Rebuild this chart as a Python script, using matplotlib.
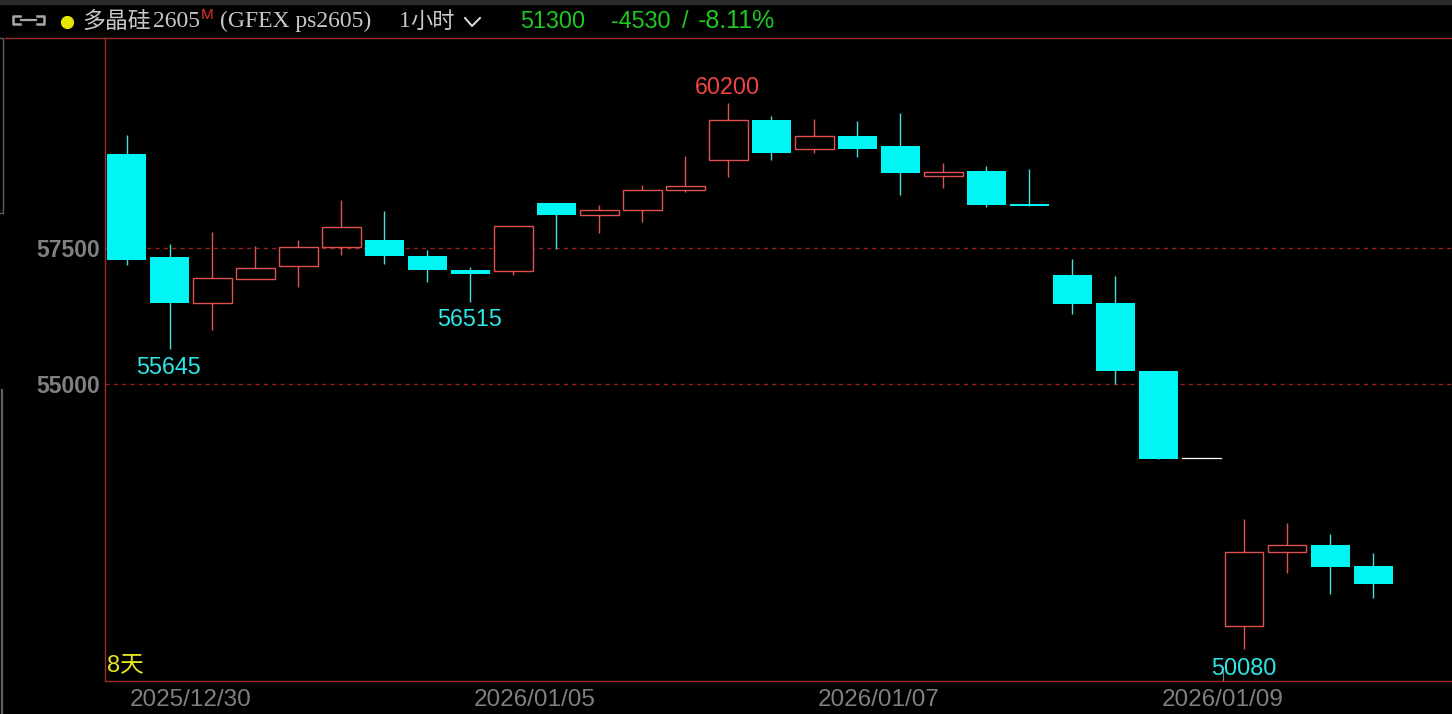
import matplotlib
matplotlib.use("Agg")
import matplotlib.pyplot as plt
from matplotlib.patches import Rectangle
from matplotlib.lines import Line2D

opens  = [59250, 57345, 56495, 56940, 57180, 57530, 57660, 57365, 57105, 57085,
          58345, 58125, 58215, 58585, 59140, 59880, 59345, 59585, 59400, 58845,
          58935, 58325, 57015, 56495, 55235, 53630, 50520, 51890, 52020, 51630]
closes = [57290, 56495, 56960, 57145, 57530, 57900, 57365, 57105, 57030, 57920,
          58125, 58215, 58585, 58660, 59880, 59270, 59585, 59345, 58900, 58920,
          58310, 58290, 56475, 55235, 53610, 53630, 51890, 52020, 51610, 51300]
highs  = [59605, 57585, 57810, 57550, 57660, 58400, 58195, 57475, 57160, 57920,
          58345, 58310, 58680, 59215, 60200, 59955, 59900, 59860, 60010, 59085,
          59030, 58975, 57310, 56995, 55235, 53630, 52500, 52425, 52220, 51870]
lows   = [57200, 55645, 55995, 56940, 56790, 57385, 57215, 56885, 56515, 57015,
          57495, 57790, 57995, 58550, 58825, 59140, 59270, 59195, 58495, 58625,
          58270, 58290, 56290, 55000, 53610, 53630, 50080, 51500, 51110, 51040]

ytick_vals = [55000, 57500]
date_pos = [1.5, 9.5, 17.5, 25.5]
date_labels = ["2025/12/30", "2026/01/05", "2026/01/07", "2026/01/09"]
# extreme labels: candle index, price, text offset in points
low_marks = [(1, 55645, -5.0), (8, 56515, -4.8), (26, 50080, -5.5)]
high_marks = [(14, 60200, 2.2)]

CYAN = "#00f5f5"
RED = "#e05252"
FRAME = "#a02c2c"
GREY = "#808080"
W, H = 1452, 714

plt.rcParams["font.family"] = ["Liberation Sans", "Noto Sans CJK SC", "DejaVu Sans"]

fig = plt.figure(figsize=(W / 100, H / 100), dpi=100, facecolor="black")
ax = fig.add_axes([104.5 / W, 1 - 681 / H, (W - 104.5) / W, (681 - 37.5) / H], facecolor="black")

for i in range(len(opens)):
    o, c, h, l = opens[i], closes[i], highs[i], lows[i]
    if c == o:
        ax.plot([i - 0.45, i + 0.45], [o, o], color="white", lw=0.9, zorder=3)
    elif c > o:
        ax.vlines(i, l, h, color=RED, lw=1.0, zorder=2)
        ax.add_patch(Rectangle((i - 0.445, o), 0.89, c - o, facecolor="black", edgecolor=RED, lw=1.0, zorder=3))
    else:
        ax.vlines(i, l, h, color="#40e0e0", lw=1.0, zorder=2)
        ax.add_patch(Rectangle((i - 0.45, c), 0.9, o - c, facecolor=CYAN, edgecolor="none", zorder=3))

ax.set_xlim(-0.512, 30.83)
ax.set_ylim(49497, 61403)

ax.set_yticks(ytick_vals)
ax.set_yticklabels([str(v) for v in ytick_vals], fontsize=16.6, fontweight="bold", color=GREY)
ax.set_xticks(date_pos)
ax.set_xticklabels(date_labels, fontsize=17.5, color=GREY)
ax.tick_params(axis="both", length=0)
ax.tick_params(axis="y", pad=3)
ax.tick_params(axis="x", pad=5.5)
ax.grid(axis="y", color="#9a2020", lw=1.0, ls=(0, (3, 3)), zorder=1)
ax.set_axisbelow(True)

for s in ["top", "right"]:
    ax.spines[s].set_visible(False)
for s in ["left", "bottom"]:
    ax.spines[s].set_color(FRAME)
    ax.spines[s].set_linewidth(1.0)

for i, v, off in low_marks:
    ax.annotate(str(v), (i, v), xytext=(-0.7, off), textcoords="offset points",
                ha="center", va="top", color="#2ee6e6", fontsize=16.8, zorder=5)
for i, v, off in high_marks:
    ax.annotate(str(v), (i, v), xytext=(-1, off), textcoords="offset points",
                ha="center", va="bottom", color="#f04444", fontsize=16.8)

# small tick under the last date's low label
ax.vlines(25.5, 49497, 49705, color=GREY, lw=0.8, zorder=6)

ax.text(0.0016, 0.0075, "8天", transform=ax.transAxes, color="#e6e620", fontsize=17,
        ha="left", va="bottom")


def px_text(x, y, s, **kw):
    return fig.text(x / W, 1 - y / H, s, va="center", **kw)


def px_line(xs, ys, **kw):
    fig.add_artist(Line2D([x / W for x in xs], [1 - y / H for y in ys], **kw))


# window furniture
fig.add_artist(Rectangle((0, 1 - 5 / H), 1, 5 / H, transform=fig.transFigure, facecolor="#2b2b2b", edgecolor="none"))
px_line([5, W], [38, 38], color=FRAME, lw=1.0)
px_line([0, 2.5, 2.5, 0], [37.5, 37.5, 213, 213], color="#606060", lw=1.0)
px_line([1.5, 1.5], [390, 714], color="#606060", lw=1.6)

# header bar
px_line([20, 13, 13, 20], [15.5, 15.5, 23.5, 23.5], color="#a8a8a8", lw=1.8)
px_line([37, 44, 44, 37], [15.5, 15.5, 23.5, 23.5], color="#a8a8a8", lw=1.8)
px_line([21, 36], [19.5, 19.5], color="#a8a8a8", lw=1.6)
fig.add_artist(Line2D([67 / W], [1 - 21.5 / H], marker="o", ms=8.5, color="#e6e600", lw=0))

hdr = "#c8c8c8"
px_text(82, 21, "多晶硅", color=hdr, fontsize=16.5, family="Noto Sans CJK SC")
px_text(153, 21.5, "2605", color=hdr, fontsize=17, family="Liberation Serif")
px_text(201, 15, "M", color="#e03030", fontsize=11, family="Liberation Sans")
px_text(220, 21.5, "(GFEX ps2605)", color=hdr, fontsize=17, family="Liberation Serif")
px_text(399, 21.5, "1", color=hdr, fontsize=17, family="Liberation Serif")
px_text(410, 21, "小时", color=hdr, fontsize=16, family="Noto Sans CJK SC")
px_line([465, 472, 480], [18, 26, 18], color="#e0e0e0", lw=1.4)
px_text(520, 21, "51300", color="#1ec81e", fontsize=16.8)
px_text(611, 21, "-4530", color="#1ec81e", fontsize=16.8)
px_text(682, 21, "/", color="#1ec81e", fontsize=16.8)
px_text(698, 21, "-8.11%", color="#1ec81e", fontsize=18)

fig.savefig("out.png", dpi=100, facecolor="black")
